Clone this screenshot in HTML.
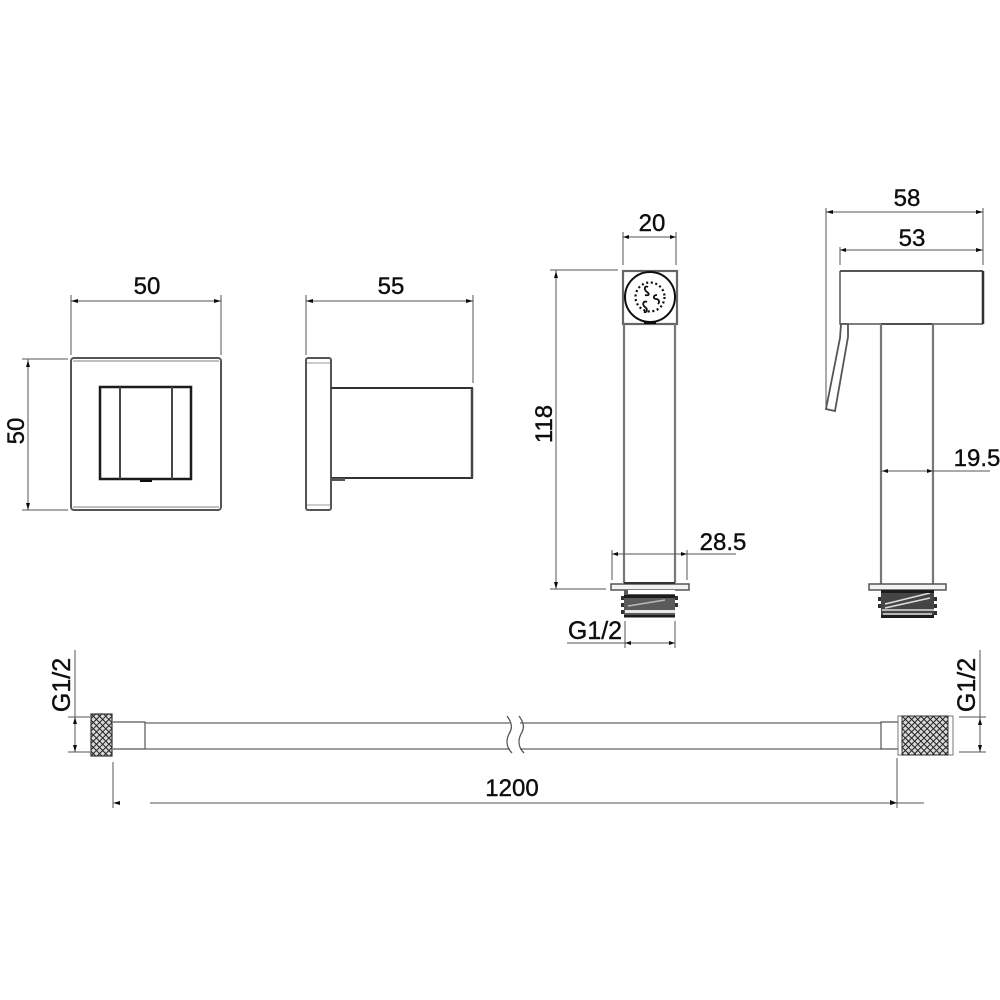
<!DOCTYPE html>
<html>
<head>
<meta charset="utf-8">
<style>
html,body{margin:0;padding:0;background:#fff;width:1000px;height:1000px;overflow:hidden}
svg{display:block}
text{font-family:"Liberation Sans",sans-serif;font-size:24px;fill:#111;stroke:#111;stroke-width:.4;text-anchor:middle}
.g{font-size:25px}
.d{stroke:#555;stroke-width:1;fill:none}
.o{stroke:#555;stroke-width:2;fill:none}
.k{stroke:#1a1a1a;stroke-width:2.5;fill:none}
.l{stroke:#777;stroke-width:2.2;fill:none}
.a{fill:#111;stroke:none}
</style>
</head>
<body>
<svg width="1000" height="1000" viewBox="0 0 1000 1000" xmlns="http://www.w3.org/2000/svg">
<defs>
<pattern id="kn" width="4.4" height="4.4" patternUnits="userSpaceOnUse" patternTransform="rotate(45)">
<rect width="4.4" height="4.4" fill="#d8d8d8"/>
<path d="M0 0H4.4M0 0V4.4" stroke="#1c1c1c" stroke-width="1.9"/>
</pattern>
<filter id="b" x="0" y="0" width="100%" height="100%"><feGaussianBlur stdDeviation="0.35"/></filter>
</defs>
<g filter="url(#b)">

<!-- Front plate -->
<path class="d" d="M71 295V355M221 295V355"/>
<path class="d" d="M71 301H221"/>
<path class="a" d="M71 301l7-2v4zM221 301l-7-2v4z"/>
<text x="147" y="294">50</text>
<path class="d" d="M22 359H68M22 510H68M28 359V510"/>
<path class="a" d="M28 360l-2 7h4zM28 510l-2-7h4z"/>
<text transform="translate(24 431) rotate(-90)">50</text>
<rect x="71" y="358" width="150" height="152" rx="3" class="o"/>
<path d="M73 361H219M73 507H219" stroke="#aaa" stroke-width="1.5" fill="none"/>
<rect x="100" y="387" width="91" height="92" class="k"/>
<path d="M120 387V479M172 387V479" stroke="#444" stroke-width="2" fill="none"/>
<path d="M140 480H152V482H140z" class="a"/>

<!-- Side view -->
<path class="d" d="M306 295V355M473 295V383M306 301H473"/>
<path class="a" d="M306 301l7-2v4zM473 301l-7-2v4z"/>
<text x="391" y="294">55</text>
<rect x="306" y="358" width="25" height="152" rx="2" class="o"/>
<path d="M307 363H330M307 505H330" stroke="#999" stroke-width="1" fill="none"/>
<path d="M331 388H472V478H331" stroke="#333" stroke-width="2" fill="none"/>
<path d="M472 388V478" stroke="#444" stroke-width="2.5" fill="none"/>
<rect x="331" y="478" width="14" height="3" fill="#555"/>

<!-- Front handset -->
<path class="d" d="M623 232V265M676 232V265M623 237H676"/>
<path class="a" d="M623 237l6-2v4zM676 237l-6-2v4z"/>
<text x="652" y="231">20</text>
<path class="d" d="M550 270H618M550 589H606M556 270V589"/>
<path class="a" d="M556 271l-2 7h4zM556 589l-2-7h4z"/>
<text transform="translate(552 424) rotate(-90)">118</text>
<rect x="623" y="271" width="54" height="53" fill="none" stroke="#666" stroke-width="2.2"/>
<circle cx="650" cy="297" r="25" fill="none" stroke="#111" stroke-width="2"/>
<circle cx="650" cy="297" r="14.5" fill="none" stroke="#111" stroke-width="2.2" stroke-dasharray="2 2.6"/>
<path d="M648 287c-4-2-4 3-1 5s2 4-2 3M657 295c-4 0-4 4-1 4s4 3 2 5M647 302c-4-2-5 3-2 5s2 6-1 5" fill="none" stroke="#111" stroke-width="1.8"/>
<rect x="644" y="322" width="12" height="2" class="a"/>
<path class="l" d="M624 324V583M675 324V583"/>
<path class="d" d="M612 550V580M687 550V580M612 554H736"/>
<path class="a" d="M612 554l6-2v4zM687 554l-6-2v4z"/>
<text x="723" y="550">28.5</text>
<rect x="611" y="584" width="78" height="6" fill="#f2f2f2" stroke="#555" stroke-width="1.5"/>
<rect x="624" y="582" width="51" height="2" fill="#333"/>
<g>
<rect x="624" y="590" width="51" height="27" fill="#5a5a5a"/>
<rect x="628" y="590" width="47" height="4" fill="#fff"/>
<rect x="624" y="595" width="51" height="3" fill="#1a1a1a"/>
<path d="M628 606L665 600" stroke="#bbb" stroke-width="1.5" fill="none"/>
<rect x="625" y="610" width="50" height="3" fill="#e8e8e8"/>
<rect x="624" y="615" width="51" height="2.5" fill="#1a1a1a"/>
<path d="M621 596h3v4h-3zM621 603h3v4h-3zM621 610h3v4h-3zM675 596h3v4h-3zM675 603h3v4h-3z" fill="#333"/>
</g>
<path class="d" d="M625 621V648M675 621V648M567 643H675"/>
<path class="a" d="M625 643l6-2v4zM675 643l-6-2v4z"/>
<text class="g" x="595" y="639">G1/2</text>

<!-- Side handset -->
<path class="d" d="M826 208V408M840 247V265M983 208V265M826 212H983M840 250H983"/>
<path class="a" d="M826 212l7-2v4zM983 212l-7-2v4zM840 250l6-2v4zM983 250l-7-2v4z"/>
<text x="907" y="206">58</text>
<text x="912" y="246">53</text>
<path d="M840 271H983" stroke="#555" stroke-width="2" fill="none"/>
<path d="M840 271V324H983" stroke="#555" stroke-width="1.5" fill="none"/>
<path d="M983 271V324" stroke="#333" stroke-width="2.5" fill="none"/>
<path d="M881 324H933" stroke="#333" stroke-width="1.5" fill="none"/>
<path d="M841 324L848 324V337L835 411L826 409L840 338Z" fill="#fff" stroke="#555" stroke-width="1.8"/>
<path class="l" d="M881 324V584M933 324V584"/>
<path class="d" d="M881 471H990"/>
<path class="a" d="M882 471l6-2v4zM933 471l-6-2v4z" />
<text x="977" y="466">19.5</text>
<rect x="869" y="584" width="77" height="6" fill="#f2f2f2" stroke="#555" stroke-width="1.5"/>
<g>
<rect x="881" y="590" width="53" height="27" fill="#444"/>
<path d="M885 604L930 593M885 608L930 598M882 610H934M883 614H932" stroke="#ddd" stroke-width="1.6" fill="none"/>
<rect x="881" y="590" width="53" height="3" fill="#1a1a1a"/>
<rect x="881" y="615" width="53" height="3" fill="#1a1a1a"/>
<path d="M878 597h3v4h-3zM878 604h3v4h-3zM934 597h3v4h-3zM934 604h3v4h-3zM934 611h3v4h-3z" fill="#333"/>
</g>

<!-- Hose -->
<path class="d" d="M75 650V717M68 717H90M68 752H90M75 717V752"/>
<path class="a" d="M75 717l-2 7h4zM75 752l-2-7h4z"/>
<text class="g" transform="translate(70 685) rotate(-90)">G1/2</text>
<rect x="91" y="714" width="21" height="42" fill="url(#kn)" stroke="#333" stroke-width="1.2"/>
<path d="M113 722H145V749H113M145 722V749" stroke="#555" stroke-width="1.2" fill="none"/>
<path d="M145 723H510M145 749H510M520 723H881M520 749H881" stroke="#666" stroke-width="1.3" fill="none"/>
<path d="M507 716c6 8 5 13 2 18c-3 6-3 13 3 19M519 716c6 8 5 13 2 18c-3 6-3 13 3 19" stroke="#555" stroke-width="1.3" fill="none"/>
<path d="M898 722H881V749H898" stroke="#555" stroke-width="1.2" fill="none"/>
<rect x="898" y="716" width="55" height="39" fill="#fff" stroke="#777" stroke-width="1"/>
<rect x="902" y="716" width="46" height="39" fill="url(#kn)" stroke="#333" stroke-width="1"/>
<path class="d" d="M959 717H986M959 752H986M980 650V752"/>
<path class="a" d="M980 718l-2 7h4zM980 752l-2-7h4z"/>
<text class="g" transform="translate(975 685) rotate(-90)">G1/2</text>
<path class="d" d="M113 762V808M897 758V808M150 803H924"/>
<path class="a" d="M113 803l7-2v4zM897 803l-7-3v5z"/>
<text x="512" y="796">1200</text>
</g>
</svg>
</body>
</html>
